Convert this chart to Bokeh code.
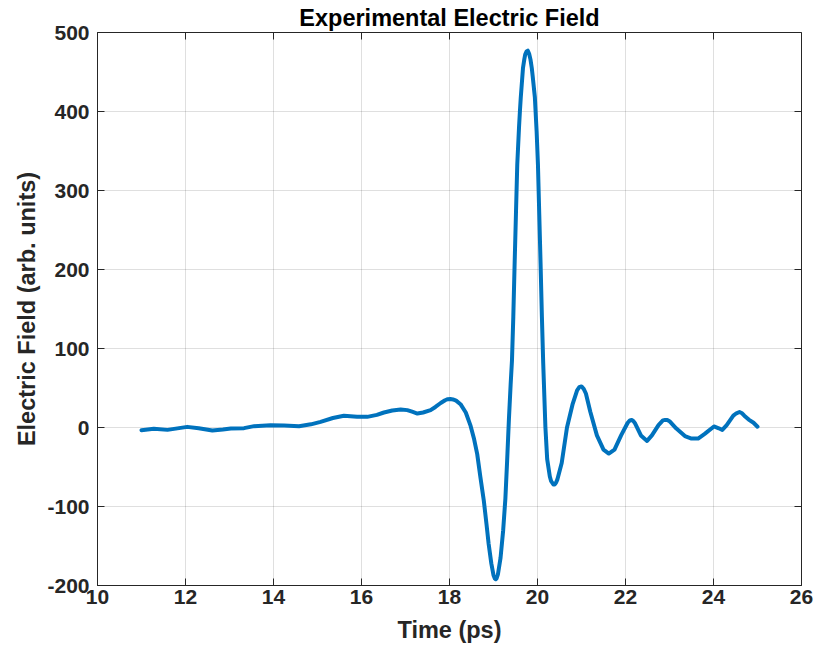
import math
from bokeh.plotting import figure
from bokeh.models import FixedTicker, ColumnDataSource
from bokeh.embed import file_html
from bokeh.resources import INLINE

# ---- data ----
time_ps = [11.00, 11.28, 11.59, 12.04, 12.30, 12.61, 12.85, 13.03, 13.33, 13.56,
           13.93, 14.24, 14.58, 14.85, 15.07, 15.35, 15.60, 15.90, 16.13, 16.35,
           16.51, 16.70, 16.89, 17.04, 17.15, 17.27, 17.40, 17.57, 17.68, 17.80,
           17.90, 17.96, 18.02, 18.08, 18.15, 18.25, 18.37, 18.48, 18.56, 18.63,
           18.70, 18.78, 18.84, 18.89, 18.95, 19.00, 19.03, 19.05, 19.07, 19.10,
           19.16, 19.22, 19.27, 19.31, 19.35, 19.39, 19.42, 19.45, 19.48, 19.51,
           19.54, 19.58, 19.60, 19.62, 19.67, 19.70, 19.72, 19.75, 19.78, 19.81,
           19.84, 19.87, 19.89, 19.94, 19.98, 20.01, 20.04, 20.07, 20.10, 20.13,
           20.18, 20.22, 20.28, 20.31, 20.36, 20.39, 20.42, 20.45, 20.55, 20.67,
           20.80, 20.90, 20.95, 21.00, 21.05, 21.10, 21.20, 21.35, 21.50, 21.62,
           21.75, 21.90, 22.05, 22.10, 22.14, 22.18, 22.22, 22.35, 22.49, 22.60,
           22.75, 22.85, 22.90, 22.95, 23.00, 23.15, 23.35, 23.50, 23.65, 23.80,
           24.01, 24.12, 24.20, 24.30, 24.45, 24.52, 24.59, 24.65, 24.70, 24.80,
           24.91, 25.00]
field = [-3.4, -1.7, -3.0, 0.8, -1.0, -3.8, -2.5, -1.3, -0.8, 1.7,
         3.0, 2.5, 1.7, 4.0, 7.2, 12.0, 14.8, 13.5, 13.5, 16.0,
         19.0, 21.5, 22.8, 22.0, 20.0, 17.7, 19.0, 22.0, 26.0, 31.0,
         34.5, 35.8, 36.0, 35.5, 34.0, 29.5, 19.0, 2.0, -15.0, -33.7,
         -62.0, -92.7, -122.0, -147.5, -172.0, -187.0, -191.0, -192.0, -191.0, -186.0,
         -165.0, -130.0, -90.0, -42.0, 10.0, 55.0, 85.0, 140.0, 207.0, 270.0,
         333.0, 380.0, 400.0, 418.0, 455.0, 466.0, 472.0, 476.0, 477.0, 473.0,
         466.0, 455.0, 445.0, 418.0, 375.0, 333.0, 270.0, 207.0, 140.0, 81.0,
         0.0, -40.0, -62.0, -68.0, -72.0, -72.0, -70.0, -66.0, -45.0, 0.0,
         30.0, 47.0, 51.0, 52.0, 49.0, 43.0, 20.0, -10.0, -28.0, -33.0,
         -28.0, -10.0, 6.0, 9.0, 9.6, 8.0, 5.0, -10.0, -17.0, -10.0,
         3.0, 9.0, 9.6, 9.5, 8.0, -1.0, -10.9, -14.0, -14.0, -8.0,
         1.3, -1.0, -3.0, 3.0, 15.0, 18.0, 19.6, 18.0, 15.0, 10.0,
         6.0, 1.0]
x_ticks = [10, 12, 14, 16, 18, 20, 22, 24, 26]
y_ticks = [-200, -100, 0, 100, 200, 300, 400, 500]
x_tick_labels = ["10", "12", "14", "16", "18", "20", "22", "24", "26"]
y_tick_labels = ["-200", "-100", "0", "100", "200", "300", "400", "500"]

FONT = "Liberation Sans"
DARK = "#262626"
X_MIN, X_MAX = x_ticks[0], x_ticks[-1]
Y_MIN, Y_MAX = y_ticks[0], y_ticks[-1]

p = figure(width=814, height=658, x_range=(X_MIN, X_MAX), y_range=(Y_MIN, Y_MAX),
           output_backend="svg", toolbar_location=None,
           min_border_left=97, min_border_right=13, min_border_top=32,
           min_border_bottom=73, background_fill_color="white",
           border_fill_color="white")

p.title.text = "Experimental Electric Field"
p.title.align = "center"
p.title.text_font = FONT
p.title.text_font_size = "23.5px"
p.title.text_font_style = "bold"
p.title.text_color = "#000000"
p.title.standoff = 3

src = ColumnDataSource(data=dict(t=time_ps, e=field))
p.line("t", "e", source=src, line_color="#0072BD", line_width=4,
       line_join="round", line_cap="round")

p.outline_line_color = DARK
p.outline_line_width = 1

for ax, ticks, labels in ((p.xaxis[0], x_ticks, x_tick_labels),
                          (p.yaxis[0], y_ticks, y_tick_labels)):
    ax.ticker = FixedTicker(ticks=ticks)
    ax.major_label_overrides = {t: l for t, l in zip(ticks, labels)}
    ax.axis_line_color = DARK
    ax.major_tick_line_color = DARK
    ax.major_tick_in = 7
    ax.major_tick_out = 0
    ax.minor_tick_line_color = None
    ax.major_label_text_font = FONT
    ax.major_label_text_font_size = "21px"
    ax.major_label_text_font_style = "bold"
    ax.major_label_text_color = DARK
    ax.axis_label_text_font = FONT
    ax.axis_label_text_font_size = "23.5px"
    ax.axis_label_text_font_style = "bold"
    ax.axis_label_text_color = DARK

p.xaxis[0].axis_label = "Time (ps)"
p.xaxis[0].major_label_standoff = 4
p.xaxis[0].axis_label_standoff = 10
p.yaxis[0].axis_label = "Electric Field (arb. units)"
p.yaxis[0].major_label_standoff = 8
p.yaxis[0].axis_label_standoff = 4

# box ticks on the top and right edges (half of each dash is clipped by the frame)
p.scatter(x=x_ticks, y=[Y_MAX] * len(x_ticks), marker="dash", angle=math.pi / 2,
          size=14, line_color=DARK, line_width=1)
p.scatter(x=[X_MAX] * len(y_ticks), y=y_ticks, marker="dash",
          size=14, line_color=DARK, line_width=1)

for g, ticks in ((p.xgrid[0], x_ticks), (p.ygrid[0], y_ticks)):
    g.ticker = FixedTicker(ticks=ticks)
    g.grid_line_color = DARK
    g.grid_line_alpha = 0.15
    g.grid_line_width = 1

open("out.html", "w").write(file_html(p, INLINE))
